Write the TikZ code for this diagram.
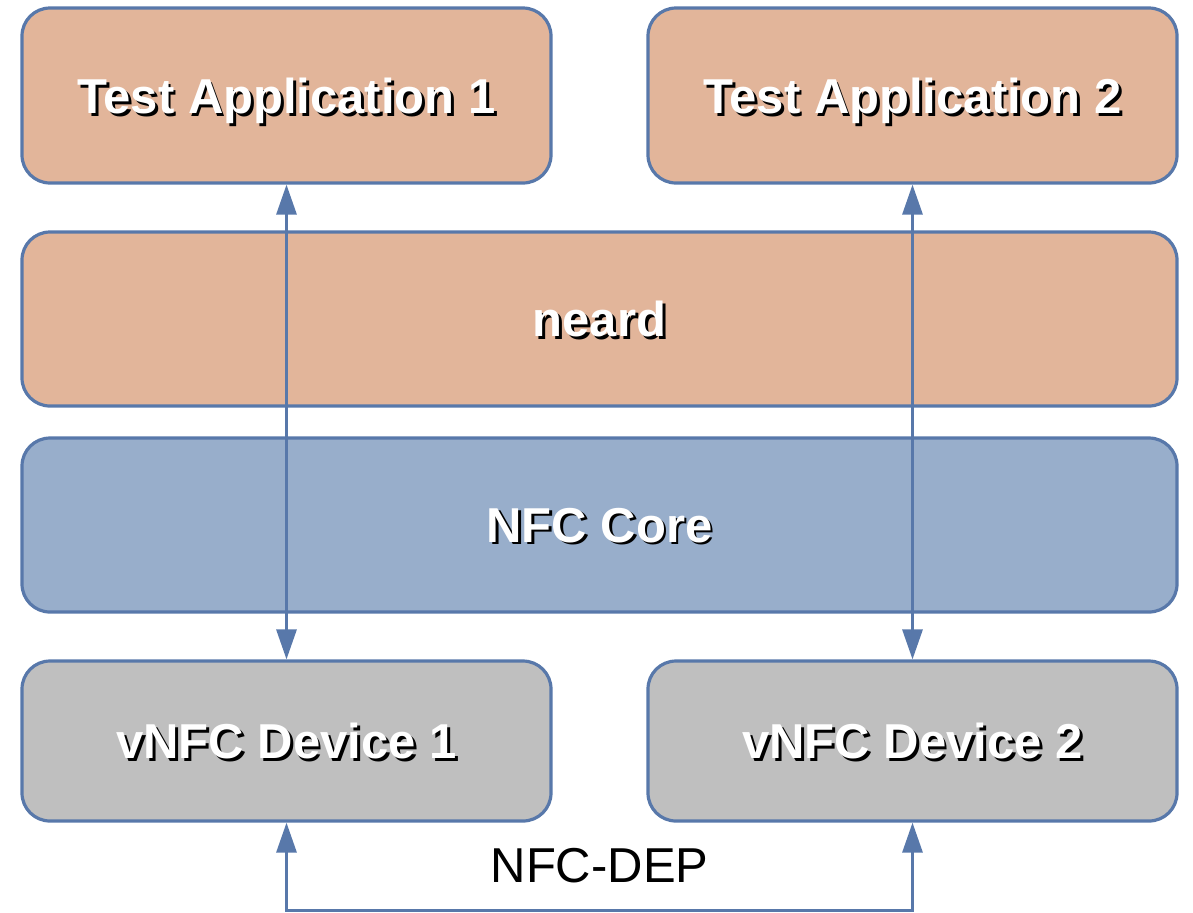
\documentclass[tikz,border=0pt]{standalone}
\usepackage{fontspec}
\setmainfont{Liberation Sans}
\usetikzlibrary{shapes,arrows,calc,positioning,arrows.meta}
\definecolor{edgeblue}{HTML}{5878AA}
\definecolor{appfill}{HTML}{E2B59A}
\definecolor{corefill}{HTML}{98AECB}
\definecolor{devfill}{HTML}{BFBFBF}
% white bold text with a black drop shadow
\newcommand{\shadowed}[1]{\rlap{\hspace{1.4pt}\raisebox{-1.4pt}{\color{black}#1}}{\color{white}#1}}

\begin{document}
\begin{tikzpicture}[
    x=0.5pt,y=-0.5pt,
    >={Triangle[length=15pt,width=10pt]},
    box/.style={rectangle,rounded corners=14pt,draw=edgeblue,line width=1.6pt,
        font=\fontsize{24.5}{28}\selectfont\bfseries,inner sep=0pt,text depth=0pt},
    appbox/.style={box,fill=appfill,minimum width=264.5pt,minimum height=87.5pt},
    layer/.style={box,minimum width=577.5pt,minimum height=87pt},
    devbox/.style={box,fill=devfill,minimum width=264.5pt,minimum height=80pt},
    link/.style={draw=edgeblue,line width=1.5pt,edgeblue}]
    \useasboundingbox (0,0) rectangle (1193,912);
    \node[appbox] (app1) at (286.5,95.5) {\shadowed{Test Application 1}};
    \node[appbox] (app2) at (912.5,95.5) {\shadowed{Test Application 2}};
    \node[layer,fill=appfill] (neard) at (599.5,319) {\shadowed{neard}};
    \node[layer,fill=corefill] (core) at (599.5,525) {\shadowed{NFC Core}};
    \node[devbox] (dev1) at (286.5,741) {\shadowed{vNFC Device 1}};
    \node[devbox] (dev2) at (912.5,741) {\shadowed{vNFC Device 2}};
    \coordinate (dep) at (599.5,910);

    \draw[link,<->] (app1.south) -- (dev1.north);
    \draw[link,<->] (app2.south) -- (dev2.north);
    \draw[link,<->] (dev1.south) |- (dep) -| (dev2.south);
    \node[font=\fontsize{24.5}{28}\selectfont] (deplabel) at (599.5,866) {NFC-DEP};
  \end{tikzpicture}
\end{document}
